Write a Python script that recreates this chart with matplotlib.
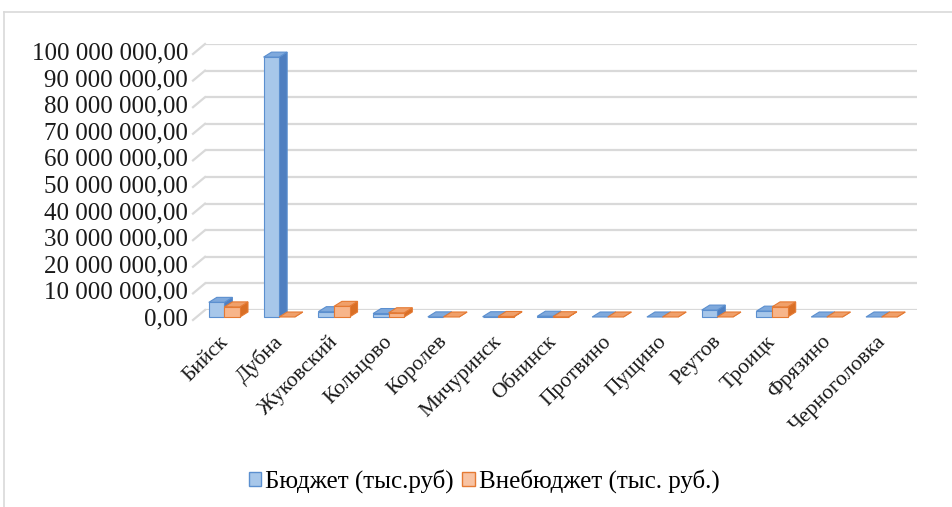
import matplotlib
matplotlib.use("Agg")
import matplotlib.pyplot as plt
from matplotlib.patches import Polygon, Patch
import matplotlib.transforms as mtransforms

# --- data -------------------------------------------------------------
cities = ["Бийск", "Дубна", "Жуковский", "Кольцово", "Королев", "Мичуринск",
          "Обнинск", "Протвино", "Пущино", "Реутов", "Троицк", "Фрязино",
          "Черноголовка"]
budget = [5.5e6, 97.7e6, 2.0e6, 1.3e6, 0.05e6, 0.1e6, 0.3e6, 0.0, 0.0,
          2.6e6, 2.2e6, 0.0, 0.0]
extra_budget = [3.8e6, 0.0, 4.0e6, 1.6e6, 0.0, 0.2e6, 0.1e6, 0.0, 0.0,
                0.0, 3.8e6, 0.0, 0.0]
series_names = ["Бюджет (тыс.руб)", "Внебюджет (тыс. руб.)"]
y_ticks = [i * 10_000_000 for i in range(11)]

# --- styling ----------------------------------------------------------
W, H, DPI = 952, 507, 100
SERIF = ["Liberation Serif", "DejaVu Serif"]
GRID = "#D9D9D9"
blue = dict(front="#A7C7EA", top="#7FA9DC", side="#4F7FC0", edge="#5B8FCF")
orange = dict(front="#F7B58A", top="#F0A06A", side="#D96F26", edge="#E57A33")

fig = plt.figure(figsize=(W / DPI, H / DPI), dpi=DPI)

# axes = back wall of the 3-D chart
left_px, right_px, zero_px, top_px = 205, 917, 310, 44
ax = fig.add_axes([left_px / W, 1 - zero_px / H,
                   (right_px - left_px) / W, (zero_px - top_px) / H])
n = len(cities)
ax.set_xlim(-0.5, n - 0.5)
ax.set_ylim(0, 100_000_000)
for s in ax.spines.values():
    s.set_visible(False)
ax.set_xticks([])
ax.set_yticks(y_ticks)
ax.tick_params(length=0, labelleft=False)
ax.yaxis.grid(True, color=GRID, linewidth=1.6)
ax.set_axisbelow(True)

# pixel -> data conversion factors
px_x = (n) / (right_px - left_px)            # category units per pixel
px_y = 100_000_000 / (zero_px - top_px)       # value units per pixel

# 3-D geometry (in pixels, converted to data units)
bar_w = 15.6 * px_x
shift_x, shift_y = -8 * px_x, -7 * px_y       # front plane offset
depth_x, depth_y = 8 * px_x, 5 * px_y         # bar depth
slant_x, slant_y = -12 * px_x, -10 * px_y     # floor / wall edge


def fmt(v):
    s = f"{int(v):,}".replace(",", " ")
    return s + ",00"


# y labels on the front plane and the wall slants
for v in y_ticks:
    ax.plot([-0.5 + slant_x, -0.5], [v + slant_y, v], color=GRID,
            linewidth=1.6, clip_on=False, zorder=0.5)
    ax.text(-0.5 + slant_x - 5 * px_x, v + slant_y + 0.5 * px_y, fmt(v),
            ha="right", va="center", fontsize=18, family=SERIF,
            color="#1a1a1a")


def draw_bar(x0, value, c):
    y0 = shift_y
    y1 = shift_y + value
    x1 = x0 + bar_w
    side = Polygon([(x1, y0), (x1 + depth_x, y0 + depth_y),
                    (x1 + depth_x, y1 + depth_y), (x1, y1)],
                   closed=True, facecolor=c["side"], edgecolor=c["edge"],
                   linewidth=0.8, clip_on=False, zorder=3)
    top = Polygon([(x0, y1), (x1, y1), (x1 + depth_x, y1 + depth_y),
                   (x0 + depth_x, y1 + depth_y)],
                  closed=True, facecolor=c["top"], edgecolor=c["edge"],
                  linewidth=0.8, clip_on=False, zorder=3)
    ax.add_patch(side)
    ax.add_patch(top)
    if value > 0:
        ax.bar(x0, value, width=bar_w, bottom=y0, align="edge",
               color=c["front"], edgecolor=c["edge"], linewidth=0.8,
               clip_on=False, zorder=3)


for i in range(n):
    cx = i + shift_x
    draw_bar(cx - bar_w, budget[i], blue)
    draw_bar(cx, extra_budget[i], orange)

# category labels, rotated
lab_tr = mtransforms.offset_copy(ax.transData, fig=fig, x=1, y=-22,
                                 units="dots")
for i, name in enumerate(cities):
    ax.text(i + shift_x, shift_y, name, transform=lab_tr, rotation=45,
            rotation_mode="anchor", ha="right", va="center",
            fontsize=15.5, family=SERIF, color="#1a1a1a")

# legend
handles = [Patch(facecolor=blue["front"], edgecolor=blue["edge"]),
           Patch(facecolor="#F8C3A3", edgecolor=orange["edge"])]
fig.legend(handles, series_names, loc="center",
           bbox_to_anchor=(0.5 + 8 / W, 1 - 481 / H), ncol=2, frameon=False,
           prop={"family": SERIF, "size": 18}, handlelength=0.5,
           handleheight=0.5, handletextpad=0.15, columnspacing=0.35)

# chart-area border (top and left edges)
fig.add_artist(plt.Line2D([4 / W, 1.0], [1 - 12 / H, 1 - 12 / H],
                          transform=fig.transFigure, color=GRID, lw=1.2))
fig.add_artist(plt.Line2D([4 / W, 4 / W], [0, 1 - 12 / H],
                          transform=fig.transFigure, color=GRID, lw=1.2))

fig.savefig("out.png", dpi=DPI, facecolor="white")
